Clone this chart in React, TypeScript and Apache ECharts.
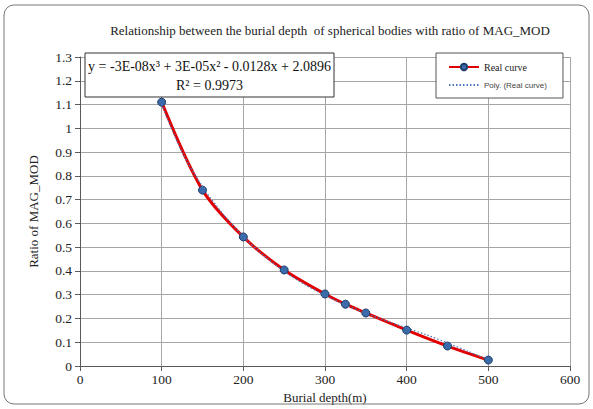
import React, { useEffect, useRef } from "react";
import * as echarts from "echarts";

const depths = [100, 150, 200, 250, 300, 325, 350, 400, 450, 500];
const ratios = [1.11, 0.74, 0.543, 0.404, 0.303, 0.26, 0.223, 0.151, 0.084, 0.025];
const trendX = [100, 125, 150, 175, 200, 225, 250, 275, 300, 325, 350, 375, 400, 425, 450, 475, 500];
const trendY = [1.1, 0.9, 0.755, 0.64, 0.545, 0.465, 0.398, 0.343, 0.297, 0.257, 0.222, 0.19, 0.16, 0.13, 0.097, 0.062, 0.025];
const xTicks = [0, 600, 100];
const yTicks = [0, 1.3, 0.1];
const titleText = "Relationship between the burial depth  of spherical bodies with ratio of MAG_MOD";
const eqLine1 = "y = -3E-08x³ + 3E-05x² - 0.0128x + 2.0896";
const eqLine2 = "R² = 0.9973";
const seriesNames = ["Real curve", "Poly. (Real curve)"];

const serif = "Liberation Serif";
const sans = "Liberation Sans";

export default function App() {
  const ref = useRef<HTMLDivElement>(null);
  useEffect(() => {
    document.body.style.margin = "0";
    const chart = echarts.init(ref.current!, null, { renderer: "svg" });
    chart.setOption({
      animation: false,
      backgroundColor: "#fff",
      title: {
        text: titleText,
        left: 325,
        textAlign: "center",
        top: 19,
        textStyle: { fontFamily: serif, fontSize: 13, fontWeight: "normal", color: "#222" },
      },
      grid: { left: 80, right: 23, top: 57, bottom: 43 },
      legend: {
        orient: "vertical",
        left: 436,
        top: 53,
        itemWidth: 30,
        itemHeight: 8,
        itemGap: 9,
        padding: [9, 16, 9, 12],
        borderColor: "#555",
        borderWidth: 1,
        backgroundColor: "#fff",
        data: [
          { name: seriesNames[0], textStyle: { fontFamily: serif, fontSize: 10, color: "#222" } },
          { name: seriesNames[1], itemStyle: { opacity: 0 }, textStyle: { fontFamily: sans, fontSize: 8, color: "#444" } },
        ],
        textStyle: { fontFamily: serif, fontSize: 10, color: "#222" },
      },
      xAxis: {
        type: "value",
        min: xTicks[0],
        max: xTicks[1],
        interval: xTicks[2],
        name: "Burial depth(m)",
        nameLocation: "middle",
        nameGap: 20,
        nameTextStyle: { fontFamily: serif, fontSize: 13, color: "#222" },
        axisLine: { lineStyle: { color: "#595959", width: 1 } },
        axisTick: { show: true, length: 5, lineStyle: { color: "#595959" } },
        axisLabel: { fontFamily: serif, fontSize: 13.5, color: "#222", margin: 6 },
        splitLine: { show: true, lineStyle: { color: "#a6a6a6", width: 1 } },
      },
      yAxis: {
        type: "value",
        min: yTicks[0],
        max: yTicks[1],
        interval: yTicks[2],
        name: "Ratio of MAG_MOD",
        nameLocation: "middle",
        nameGap: 40,
        nameTextStyle: { fontFamily: serif, fontSize: 13, color: "#222" },
        axisLine: { show: true, lineStyle: { color: "#595959", width: 1 } },
        axisTick: { show: true, length: 5, lineStyle: { color: "#595959" } },
        axisLabel: {
          fontFamily: serif,
          fontSize: 13.5,
          color: "#222",
          margin: 8,
          formatter: (v: number) => String(Math.round(v * 10) / 10),
        },
        splitLine: { show: true, lineStyle: { color: "#a6a6a6", width: 1 } },
      },
      series: [
        {
          name: seriesNames[1],
          type: "line",
          data: trendX.map((x, i) => [x, trendY[i]]),
          smooth: 0.3,
          showSymbol: false,
          symbol: "none",
          lineStyle: { color: "#4a78c0", width: 1.2, type: [1.5, 2] },
          itemStyle: { color: "#4a78c0" },
          z: 3,
        },
        {
          name: seriesNames[0],
          type: "line",
          data: depths.map((x, i) => [x, ratios[i]]),
          smooth: 0.3,
          symbol: "circle",
          symbolSize: 8,
          lineStyle: { color: "#e00000", width: 3 },
          itemStyle: { color: "#3a6aa8", borderColor: "#1f3f6a", borderWidth: 1 },
          z: 2,
        },
      ],
      graphic: [
        {
          type: "rect",
          shape: { x: 4, y: 5, width: 585, height: 399, r: 10 },
          style: { fill: "none", stroke: "#777", lineWidth: 1 },
          silent: true,
          z: 100,
        },
        {
          type: "rect",
          shape: { x: 85, y: 53, width: 249, height: 44 },
          style: { fill: "#fff", stroke: "#333", lineWidth: 1 },
          z: 100,
        },
        {
          type: "text",
          x: 209.5,
          y: 66,
          z: 101,
          style: {
            text: eqLine1,
            font: `14px '${serif}'`,
            fill: "#111",
            align: "center",
            verticalAlign: "middle",
          },
        },
        {
          type: "text",
          x: 209.5,
          y: 85,
          z: 101,
          style: {
            text: eqLine2,
            font: `14px '${serif}'`,
            fill: "#111",
            align: "center",
            verticalAlign: "middle",
          },
        },
      ],
    });
    return () => chart.dispose();
  }, []);
  return <div ref={ref} style={{ width: 593, height: 409 }} />;
}
